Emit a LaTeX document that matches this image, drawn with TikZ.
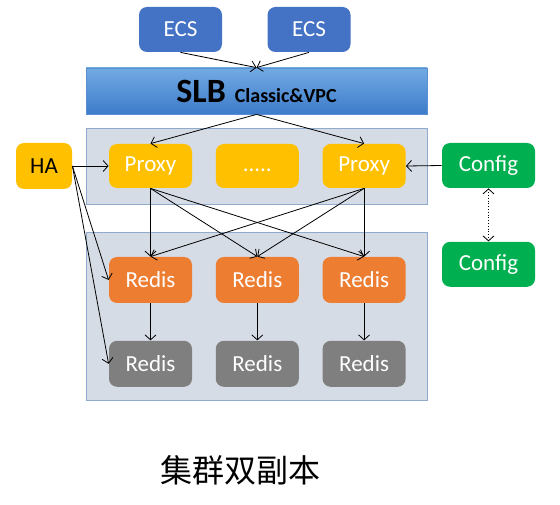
\documentclass[tikz,border=0pt]{standalone}
\usepackage{fontspec}
\setmainfont{Carlito}
\newfontfamily\cjkfont{Noto Sans CJK SC}
\usepackage{tikz}
\usetikzlibrary{arrows.meta,positioning}
\definecolor{ecsBlue}{HTML}{4472C4}
\definecolor{slbTop}{HTML}{72AAE3}
\definecolor{slbBottom}{HTML}{3D7CCA}
\definecolor{panelBack}{HTML}{D6DCE5}
\definecolor{panelFrame}{HTML}{8FAACB}
\definecolor{proxyGold}{HTML}{FFC000}
\definecolor{configGreen}{HTML}{00B050}
\definecolor{redisOrange}{HTML}{ED7D31}
\definecolor{redisGray}{HTML}{7F7F7F}

\begin{document}
\begin{tikzpicture}[x=1pt,y=-1pt,>={Straight Barb[length=5pt,width=11pt]},line width=0.8pt]
  \tikzstyle{boxNode}=[rounded corners=8pt,minimum width=83pt,minimum height=45pt,inner sep=0pt,text=white,font=\fontsize{23}{27}\selectfont]
  \tikzstyle{panelNode}=[draw=panelFrame,fill=panelBack,line width=0.8pt]
  \useasboundingbox (0,0) rectangle (560,505);
  % panels
  \draw[panelNode] (86,128) rectangle (427,204);
  \draw[panelNode] (86,232) rectangle (427,400);
  % entry
  \node[boxNode,fill=ecsBlue] (ecsA) at (180.5,29.5) {ECS};
  \node[boxNode,fill=ecsBlue] (ecsB) at (309,29.5) {ECS};
  \node[top color=slbTop,bottom color=slbBottom,draw=slbBottom!85,minimum width=341pt,minimum height=46pt,inner sep=0pt] (slb) at (256.5,91) {{\fontsize{34}{40}\selectfont\bfseries SLB}\hspace{9pt}{\fontsize{20}{24}\selectfont\bfseries Classic\&VPC}};
  % proxies
  \node[boxNode,fill=proxyGold,minimum height=44pt] (proxyA) at (150.5,166) {Proxy};
  \node[boxNode,fill=proxyGold,minimum height=44pt,right=23pt of proxyA] (dots) {\vphantom{Proxy}.....};
  \node[boxNode,fill=proxyGold,minimum height=44pt,right=23pt of dots] (proxyB) {Proxy};
  \node[boxNode,fill=proxyGold,text=black,minimum width=56pt,minimum height=46pt] (ha) at (44,166) {HA};
  \node[boxNode,fill=configGreen,minimum width=93pt] (cfgA) at (488.5,165.5) {Config};
  \node[boxNode,fill=configGreen,minimum width=93pt,below=53pt of cfgA] (cfgB) {Config};
  % redis
  \node[boxNode,fill=redisOrange,minimum height=46pt] (redisA) at (150.5,280) {Redis};
  \node[boxNode,fill=redisOrange,minimum height=46pt,right=23pt of redisA] (redisB) {Redis};
  \node[boxNode,fill=redisOrange,minimum height=46pt,right=23pt of redisB] (redisC) {Redis};
  \node[boxNode,fill=redisGray,minimum height=46pt,below=37pt of redisA] (slaveA) {Redis};
  \node[boxNode,fill=redisGray,minimum height=46pt,below=37pt of redisB] (slaveB) {Redis};
  \node[boxNode,fill=redisGray,minimum height=46pt,below=37pt of redisC] (slaveC) {Redis};
  \node[font=\cjkfont\fontsize{32}{36}\selectfont] (caption) at (240,470) {集群双副本};
  % connectors
  \draw[->] (ecsA.south) -- (slb.north);
  \draw[->] (ecsB.south) -- (slb.north);
  \draw[->] (slb.south) -- (proxyA.north);
  \draw[->] (slb.south) -- (proxyB.north);
  \draw[->] (ha.east) -- (proxyA.west);
  \draw[->] (cfgA.west) -- (proxyB.east);
  \draw[<->,dotted] (cfgA) -- (cfgB);
  \foreach \p in {proxyA,proxyB}
    \foreach \r in {redisA,redisB,redisC}
      \draw[->] (\p.south) -- (\r.north);
  \draw[->] (ha.east) -- (redisA.west);
  \draw[->] (ha.east) -- (slaveA.west);
  \foreach \r/\s in {redisA/slaveA,redisB/slaveB,redisC/slaveC}
    \draw[->] (\r) -- (\s);
\end{tikzpicture}
\end{document}
